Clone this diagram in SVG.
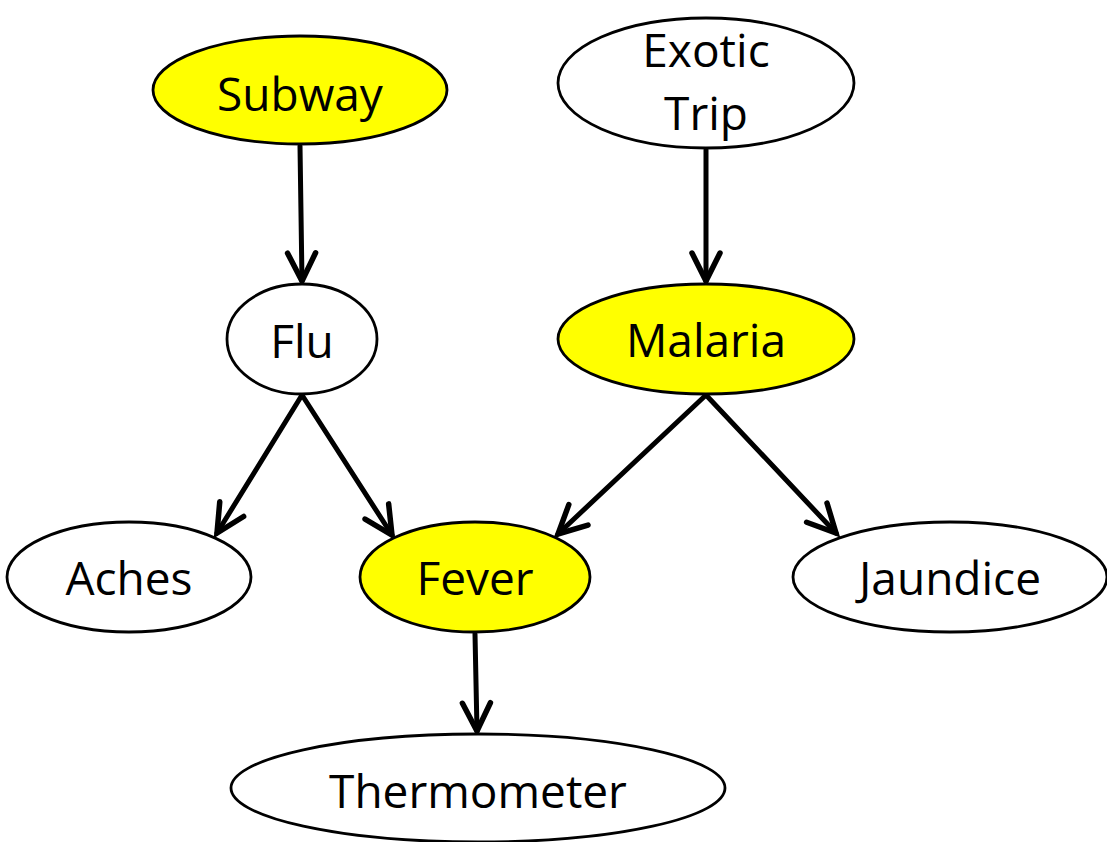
<svg xmlns="http://www.w3.org/2000/svg" width="1107" height="842" viewBox="0 0 1107 842">
<style>
.n{stroke:#000;stroke-width:2.8}
.w{fill:#fff}
.y{fill:#ffff00}
.t{font-family:"Open Sans","Liberation Sans",sans-serif;font-size:46px;fill:#000;text-anchor:middle}
.e{stroke:#000;stroke-width:5;fill:none;stroke-linecap:round;marker-end:url(#ah)}
</style>
<defs>
<marker id="ah" markerUnits="userSpaceOnUse" viewBox="-35 -20 40 40" markerWidth="40" markerHeight="40" refX="0" refY="0" orient="auto" overflow="visible">
<path d="M-28,-14 L0,0 L-28,14" fill="none" stroke="#000" stroke-width="5.5" stroke-linecap="round" stroke-linejoin="miter"/>
</marker>
</defs>
<rect width="1107" height="842" fill="#fff"/>
<g id="connectors">
<path class="e" d="M300,146 L302,281"/>
<path class="e" d="M706,150 L706,281"/>
<path class="e" d="M302,395 L217,533"/>
<path class="e" d="M302,395 L392,535"/>
<path class="e" d="M706,395 L558,534"/>
<path class="e" d="M706,395 L836,533"/>
<path class="e" d="M475,634 L477,731"/>
</g>
<g id="subway"><ellipse class="n y" cx="300" cy="90" rx="147" ry="54"/><text class="t" x="300" y="111">Subway</text></g>
<g id="exotic-trip"><ellipse class="n w" cx="706" cy="83" rx="148" ry="65"/><text class="t" x="706" y="67">Exotic</text><text class="t" x="706" y="130">Trip</text></g>
<g id="flu"><ellipse class="n w" cx="302" cy="339" rx="75" ry="55"/><text class="t" x="302" y="358">Flu</text></g>
<g id="malaria"><ellipse class="n y" cx="706" cy="339" rx="148" ry="55"/><text class="t" x="706" y="357">Malaria</text></g>
<g id="aches"><ellipse class="n w" cx="129" cy="577" rx="122" ry="55"/><text class="t" x="129" y="595">Aches</text></g>
<g id="fever"><ellipse class="n y" cx="475" cy="577" rx="115" ry="55"/><text class="t" x="475" y="595">Fever</text></g>
<g id="jaundice"><ellipse class="n w" cx="950" cy="577" rx="157" ry="55"/><text class="t" x="950" y="595">Jaundice</text></g>
<g id="thermometer"><ellipse class="n w" cx="478" cy="788" rx="247" ry="54"/><text class="t" x="478" y="808">Thermometer</text></g>
</svg>
